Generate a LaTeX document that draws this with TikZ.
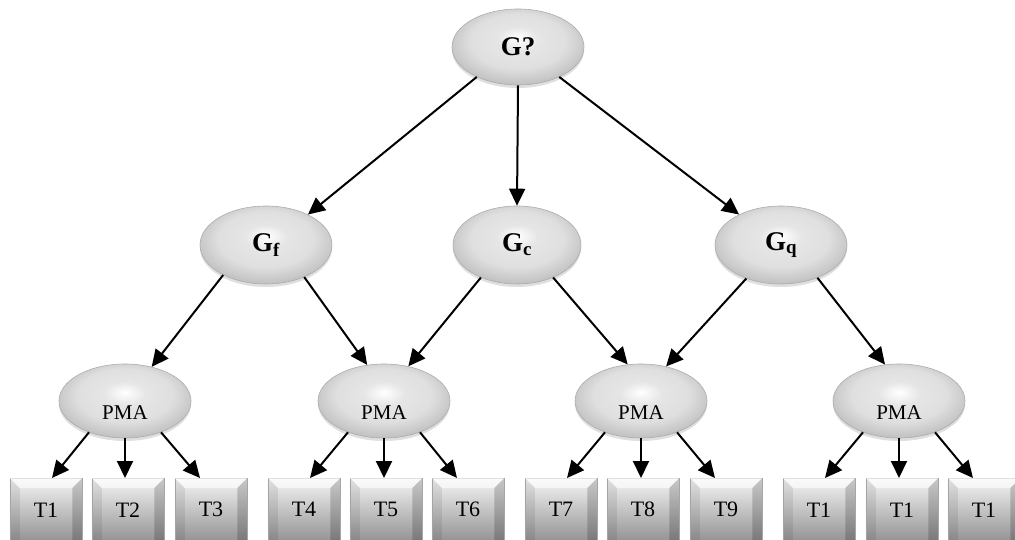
\documentclass[tikz,border=0pt]{standalone}
\usepackage{fontspec}
\setmainfont{Liberation Serif}
\usetikzlibrary{arrows.meta,shadows,calc,shapes.geometric}

% glossy grey fill for the oval nodes, brightest a little above the centre
\pgfdeclareradialshading{glossy}{\pgfpoint{0bp}{6bp}}{%
  color(0bp)=(white);
  color(8bp)=(white!90!black);
  color(18bp)=(gray!25);
  color(26bp)=(gray!45);
  color(32bp)=(gray!62);
  color(50bp)=(gray!65)}

\tikzset{
  oval/.style={ellipse, shading=glossy, draw=gray!65, line width=0.6pt,
    inner sep=0pt, minimum width=132pt, minimum height=78pt,
    drop shadow={opacity=0.25, shadow xshift=0pt, shadow yshift=-3pt}},
  topoval/.style={oval, minimum height=76pt, font=\fontsize{27}{31}\selectfont\bfseries},
  midoval/.style={oval, font=\fontsize{27}{31}\selectfont\bfseries},
  pmaoval/.style={oval, minimum height=74pt},
  pmatext/.style={inner sep=0pt, font=\fontsize{21}{25}\selectfont},
  tbox/.style={rectangle, anchor=north, minimum width=72pt, minimum height=63pt,
    inner sep=0pt, top color=gray!8, bottom color=gray!85, draw=gray!60,
    line width=0.5pt, font=\fontsize{22}{26}\selectfont},
  arr/.style={-{Triangle[length=17pt,width=16pt]}, line width=2pt, black},
}

\begin{document}
\begin{tikzpicture}[x=1pt,y=1pt]
\useasboundingbox (0,0) rectangle (1015,-540);
\fill[white] (0,0) rectangle (1015,-540);
\clip (0,0) rectangle (1015,-540);

% root
\node[topoval] (G) at (518,-47) {G?};

% second level
\node[midoval] (Gf) at (266,-245) {G\textsubscript{f}};
\node[midoval, minimum width=128pt] (Gc) at (517,-245) {G\textsubscript{c}};
\node[midoval] (Gq) at (781,-245) {G\textsubscript{q}};

% PMA level (label sits below the centre of each oval)
\foreach \n/\x in {P1/125, P2/384, P3/641, P4/899}{
  \node[pmaoval] (\n) at (\x,-401) {};
  \node[pmatext] (\n t) at ($(\n)+(0,-12)$) {PMA};
}

% leaf boxes
\node[tbox] (t1)  at (46,-478)  {T1};
\node[tbox] (t2)  at (128,-478) {T2};
\node[tbox] (t3)  at (211,-478) {T3};
\node[tbox] (t4)  at (304,-478) {T4};
\node[tbox] (t5)  at (386,-478) {T5};
\node[tbox] (t6)  at (468,-478) {T6};
\node[tbox] (t7)  at (561,-478) {T7};
\node[tbox] (t8)  at (643,-478) {T8};
\node[tbox] (t9)  at (726,-478) {T9};
\node[tbox] (t10) at (819,-478) {T1};
\node[tbox] (t11) at (902,-478) {T1};
\node[tbox] (t12) at (984,-478) {T1};

% bevelled faces of the boxes
\foreach \b in {t1,t2,t3,t4,t5,t6,t7,t8,t9,t10,t11,t12}{
  \fill[white,opacity=0.6] (\b.north west) -- (\b.north east)
    -- ($(\b.north east)+(-10,-10)$) -- ($(\b.north west)+(10,-10)$) -- cycle;
  \fill[black,opacity=0.08] (\b.north west) -- ($(\b.north west)+(10,-10)$)
    -- ($(\b.south west)+(10,0)$) -- (\b.south west) -- cycle;
  \fill[black,opacity=0.18] (\b.north east) -- ($(\b.north east)+(-10,-10)$)
    -- ($(\b.south east)+(-10,0)$) -- (\b.south east) -- cycle;
}

% root to second level
\draw[arr] (G.216) -- (Gf.36);
\draw[arr] (G.south) -- (Gc.north);
\draw[arr] (G.324) -- (Gq.144);

% second level to PMA
\draw[arr] (Gf.215) -- (P1.52);
\draw[arr] (Gf.320) -- (P2.115);
\draw[arr] (Gc.222) -- (P2.55);
\draw[arr] (Gc.318) -- (P3.110);
\draw[arr] (Gq.224) -- (P3.54);
\draw[arr] (Gq.318) -- (P4.111);

% PMA to leaves
\foreach \p/\l/\m/\r in {P1/t1/t2/t3, P2/t4/t5/t6, P3/t7/t8/t9, P4/t10/t11/t12}{
  \draw[arr] (\p.221) -- ($(\l.north)+(6,0)$);
  \draw[arr] (\p.south) -- (\p.south |- \m.north);
  \draw[arr] (\p.319) -- ($(\r.north)+(-11,0)$);
}
\end{tikzpicture}
\end{document}
